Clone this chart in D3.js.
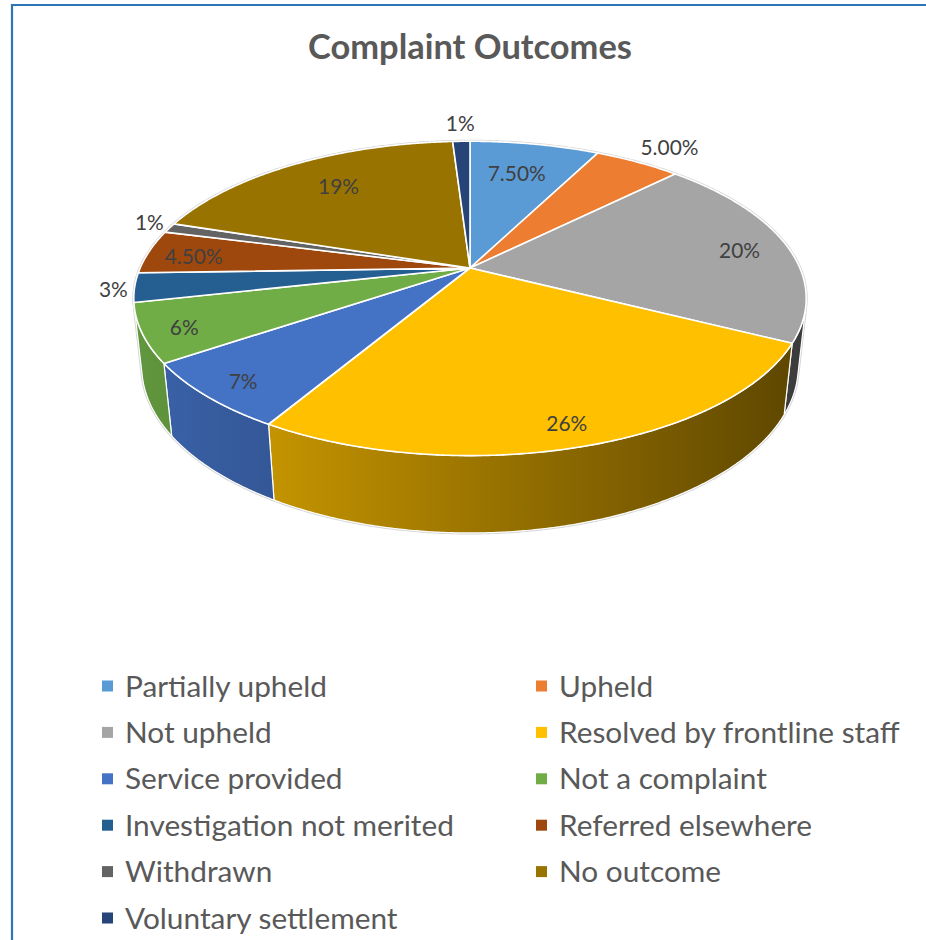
<!DOCTYPE html>
<html><head><meta charset="utf-8">
<script src="https://cdn.jsdelivr.net/npm/d3@7"></script>
<style>body{margin:0;background:#fff} svg{display:block}</style>
</head><body>
<svg id="chart" width="926" height="940"></svg>
<script>
// ---- data ----
const title = "Complaint Outcomes";
const categories = ["Partially upheld","Upheld","Not upheld","Resolved by frontline staff","Service provided","Not a complaint","Investigation not merited","Referred elsewhere","Withdrawn","No outcome","Voluntary settlement"];
const values = [7.5, 5, 20, 26, 7, 6, 3, 4.5, 1, 19, 1];
const valueLabels = ["7.50%","5.00%","20%","26%","7%","6%","3%","4.50%","1%","19%","1%"];
const palette = ["#5B9BD5","#ED7D31","#A5A5A5","#FFC000","#4472C4","#70AD47","#255E91","#9E480E","#636363","#997300","#264478"];

// ---- setup ----
const svg = d3.select("#chart");
const color = d3.scaleOrdinal().domain(categories).range(palette);
const FONT = "Lato, 'Open Sans', sans-serif";

// border (Word chart frame)
svg.append("line").attr("x1",12).attr("y1",4).attr("x2",12).attr("y2",940)
  .attr("stroke","#2E75B6").attr("stroke-width",2.2);
svg.append("line").attr("x1",11).attr("y1",5).attr("x2",926).attr("y2",5)
  .attr("stroke","#2E75B6").attr("stroke-width",2.2);

// fit a font size so a reference string reaches a target width
function fitSize(str, weight, target, base){
  const t = svg.append("text").attr("font-family",FONT).attr("font-weight",weight)
    .attr("font-size",base).text(str);
  const w = t.node().getComputedTextLength(); t.remove();
  return base*target/w;
}

// title
const titleSize = fitSize(title, 700, 324, 30);
svg.append("text").attr("x",470).attr("y",59).attr("text-anchor","middle")
  .attr("font-family",FONT).attr("font-weight",700).attr("font-size",titleSize)
  .attr("fill","#595959").text(title);

// ---- 3D projection ----
const CX=470, CY=268, F=1514, DIST=4.59, ELEV=27.3*Math.PI/180, H=0.234;
const sE=Math.sin(ELEV), cE=Math.cos(ELEV);
function proj(a, r, y){
  const X=r*Math.sin(a), Z=r*Math.cos(a);
  const up=y*cE+Z*sE, d=DIST+Z*cE-y*sE;
  return [CX+F*X/d, CY-F*up/d];
}
function arcPts(a0,a1,r,y){
  const n=Math.max(2,Math.ceil((a1-a0)/(0.4*Math.PI/180)));
  return d3.range(n+1).map(i=>proj(a0+(a1-a0)*i/n,r,y));
}
const line = d3.line().curve(d3.curveLinearClosed);

const arcs = d3.pie().sort(null).value(d=>d)(values);
const VA0 = Math.acos(-1/(DIST*cE)), VA1 = 2*Math.PI-VA0;

// horizontal extent for side shading
const rim = arcPts(0,2*Math.PI,1,0);
const xMin = d3.min(rim,p=>p[0]), xMax = d3.max(rim,p=>p[0]);

const defs = svg.append("defs");
arcs.forEach((a,i)=>{
  const c = color(categories[i]);
  const g = defs.append("linearGradient").attr("id","side"+i)
    .attr("gradientUnits","userSpaceOnUse").attr("x1",xMin).attr("x2",xMax).attr("y1",0).attr("y2",0);
  g.append("stop").attr("offset",0).attr("stop-color",d3.interpolateRgb(c,"#000")(0.13));
  g.append("stop").attr("offset",1).attr("stop-color",d3.interpolateRgb(c,"#000")(0.64));
});

// outline (silhouette)
const sil = arcPts(VA1-2*Math.PI, VA0, 1, 0).concat(arcPts(VA0, VA1, 1, -H));
svg.append("path").attr("d",line(sil)).attr("fill","none")
  .attr("stroke","#D5D5D5").attr("stroke-width",3);

// sides
const gSide = svg.append("g");
arcs.forEach((a,i)=>{
  const s0=Math.max(a.startAngle,VA0), s1=Math.min(a.endAngle,VA1);
  if(s1<=s0) return;
  const pts = arcPts(s0,s1,1,0).concat(arcPts(s0,s1,1,-H).reverse());
  gSide.append("path").attr("d",line(pts)).attr("fill","url(#side"+i+")")
    .attr("stroke","#fff").attr("stroke-width",1.2).attr("stroke-linejoin","round");
});

// top faces
const tops = arcs.map(a=>[proj(0,0,0)].concat(arcPts(a.startAngle,a.endAngle,1,0)));
const gTop = svg.append("g");
arcs.forEach((a,i)=>{
  gTop.append("path").attr("d",line(tops[i])).attr("fill",color(categories[i]))
    .attr("stroke","#fff").attr("stroke-width",1.6).attr("stroke-linejoin","round");
});

// data labels
const labelSize = fitSize("7.50%", 400, 58, 22);
const gLab = svg.append("g").attr("font-family",FONT).attr("font-size",labelSize).attr("fill","#404040");
const capH = 0.72*labelSize;
arcs.forEach((a,i)=>{
  const mid=(a.startAngle+a.endAngle)/2;
  const sn=Math.sin(mid), cs=Math.cos(mid);
  const t = gLab.append("text").attr("text-anchor","middle").text(valueLabels[i]);
  const w = t.node().getComputedTextLength();
  const test = proj(mid,0.82,0);
  const pad=4;
  const corners=[[test[0]-w/2-pad,test[1]-capH/2-pad],[test[0]+w/2+pad,test[1]-capH/2-pad],
                 [test[0]-w/2-pad,test[1]+capH/2+pad],[test[0]+w/2+pad,test[1]+capH/2+pad]];
  let cx, cy;
  if(corners.every(c=>d3.polygonContains(tops[i],c))){
    const pin = proj(mid, 0.88-0.2*Math.max(0,cs), 0);
    cx=pin[0]; cy=pin[1] + 3 - 8*Math.max(0,cs);
  } else {
    const p = proj(mid,1.02,0);
    cx = p[0]+Math.sign(sn)*(w/2)*Math.min(1,2*Math.abs(sn)); cy = p[1]-cs*16;
  }
  t.attr("x",cx).attr("y",cy+capH/2);
});

// legend
const legSize = fitSize("Partially upheld", 400, 202, 28);
const gLeg = svg.append("g").attr("font-family",FONT).attr("font-size",legSize).attr("fill","#595959");
categories.forEach((c,i)=>{
  const col=i%2, row=Math.floor(i/2);
  const mx = col===0?102:536, tx = col===0?125:559, by = 696.5+46.4*row;
  gLeg.append("rect").attr("x",mx).attr("y",by-16).attr("width",11).attr("height",11).attr("fill",color(c));
  gLeg.append("text").attr("x",tx).attr("y",by).text(c);
});
</script>
</body></html>
